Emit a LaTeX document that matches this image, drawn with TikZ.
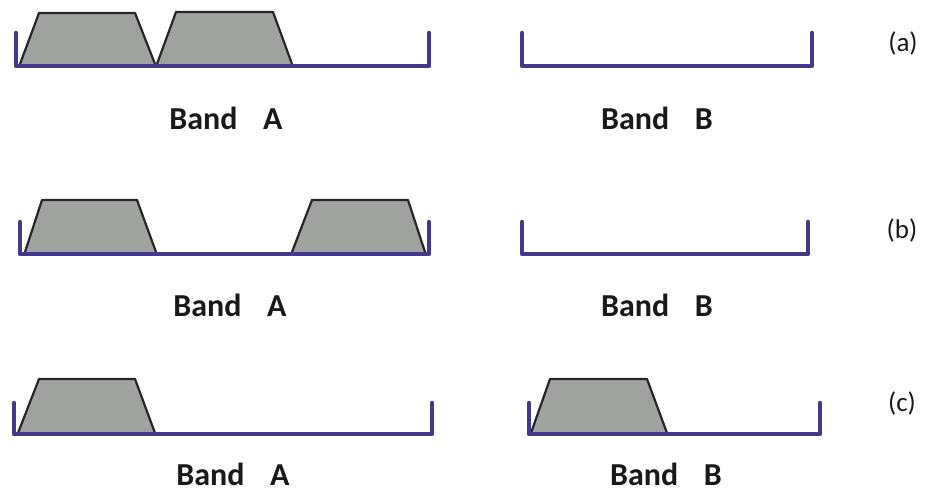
\documentclass[tikz,border=0pt]{standalone}
\usepackage{fontspec}
\setmainfont{Carlito}
\begin{document}
\begin{tikzpicture}[x=1pt,y=-1pt,
  bracket/.style={draw=brk,line width=4.5pt,line cap=round,line join=round},
  chan/.style={fill=chg,draw=black!85,line width=2.2pt,line join=round},
  bandlbl/.style={font=\fontsize{32}{36}\selectfont\bfseries,inner sep=0pt,text=black!90},
  rowlbl/.style={font=\fontsize{27}{31}\selectfont,inner sep=0pt,text=black!90}]
\definecolor{brk}{RGB}{66,56,140}
\definecolor{chg}{RGB}{160,162,160}
\useasboundingbox (0,0) rectangle (926,492);
% Row (a)
\path[chan] (20,64) -- (39,13) -- (135,13) -- (155,64);
\path[chan] (157,64) -- (176,12) -- (273,12) -- (292,64);
\draw[bracket] (16,33) -- (16,66) -- (429,66) -- (429,33);
\draw[bracket] (522,33) -- (522,66) -- (812,66) -- (812,33);
\node[bandlbl] (a1) at (226,118) {Band\hspace{0.8em}A};
\node[bandlbl] (a2) at (657,118) {Band\hspace{0.8em}B};
\node[rowlbl] (la) at (903,43) {(a)};
% Row (b)
\path[chan] (25,252) -- (42,200) -- (137,200) -- (156,252);
\path[chan] (292,252) -- (312,200) -- (408,200) -- (425,252);
\draw[bracket] (20,222) -- (20,254) -- (429,254) -- (429,222);
\draw[bracket] (522,222) -- (522,254) -- (808,254) -- (808,222);
\node[bandlbl] (b1) at (230,305) {Band\hspace{0.8em}A};
\node[bandlbl] (b2) at (657,305) {Band\hspace{0.8em}B};
\node[rowlbl] (lb) at (902,230) {(b)};
% Row (c)
\path[chan] (18,433) -- (39,379) -- (135,379) -- (155,433);
\draw[bracket] (14,403) -- (14,434) -- (432,434) -- (432,403);
\path[chan] (531,433) -- (550,379) -- (647,379) -- (667,433);
\draw[bracket] (529,403) -- (529,434) -- (820,434) -- (820,403);
\node[bandlbl] (c1) at (233,474) {Band\hspace{0.8em}A};
\node[bandlbl] (c2) at (666,474) {Band\hspace{0.8em}B};
\node[rowlbl] (lc) at (902,403) {(c)};
\end{tikzpicture}
\end{document}
